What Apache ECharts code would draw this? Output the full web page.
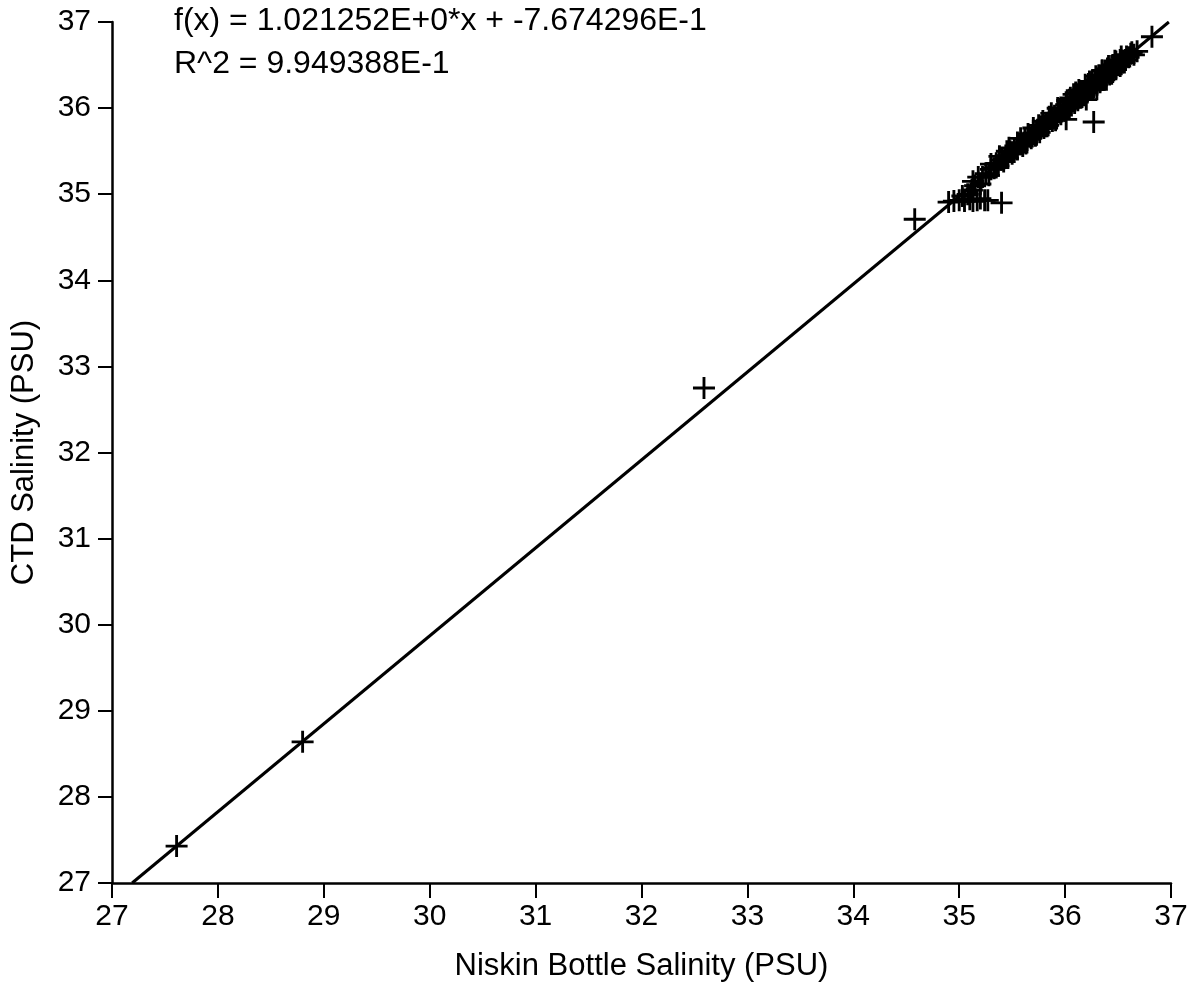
<!DOCTYPE html>
<html>
<head>
<meta charset="utf-8">
<script src="https://cdn.jsdelivr.net/npm/echarts@6/dist/echarts.min.js"></script>
<style>
html,body{margin:0;padding:0;background:#fff;}
#c{width:1192px;height:989px;}
</style>
</head>
<body>
<div id="c"></div>
<script>
// Tick values on both axes
var axisTicks = [27, 28, 29, 30, 31, 32, 33, 34, 35, 36, 37];

// Niskin bottle salinity (x) and CTD salinity (y)
var bottleSal = [
  27.61, 28.80, 32.59, 34.58, 35.40, 36.27, 36.01,
  36.82, 36.60, 36.63, 36.55, 36.68,
  34.90, 34.95, 35.00, 35.05, 35.10, 35.13, 35.17, 35.20, 35.24, 35.27,
  35.12, 35.15, 35.13, 35.18, 35.20, 35.08, 35.03,
  35.22, 35.25, 35.28, 35.30, 35.33, 35.35, 35.37, 35.40, 35.42, 35.44,
  35.46, 35.48, 35.50, 35.52, 35.55, 35.57, 35.60, 35.62, 35.64, 35.66,
  35.68, 35.70, 35.72, 35.74, 35.76, 35.78, 35.80, 35.82, 35.84, 35.86,
  35.88, 35.90, 35.92, 35.94, 35.96, 35.98, 36.00, 36.01, 36.03, 36.05,
  36.06, 36.08, 36.09, 36.11, 36.12, 36.14, 36.15, 36.17, 36.18, 36.20,
  36.21, 36.22, 36.24, 36.25, 36.27, 36.28, 36.30, 36.31, 36.33, 36.34,
  36.36, 36.37, 36.39, 36.40, 36.42, 36.43, 36.45, 36.46, 36.48, 36.50,
  36.52, 36.54, 36.56, 36.58, 36.62, 36.65,
  36.10, 36.20, 36.35, 36.30, 36.45, 36.15, 36.25, 36.40, 36.05, 35.95,
  35.85, 35.75, 35.65, 35.55, 35.45, 36.32, 36.38, 36.48, 36.52, 36.22,
  35.30, 35.38, 35.47, 35.58, 35.70, 35.79, 35.87, 35.93, 36.02, 36.08,
  36.13, 36.19, 36.23, 36.29, 36.35, 36.41, 36.47, 36.53, 35.35, 35.52,
  35.63, 35.73, 35.83, 35.91, 36.04, 36.16, 36.26, 36.37, 36.44, 36.57
];
var ctdSal = [
  27.43, 28.64, 32.75, 34.71, 34.90, 35.84, 35.87,
  36.83, 36.59, 36.65, 36.55, 36.66,
  34.91, 34.92, 34.93, 34.92, 34.94, 34.92, 34.93, 34.95, 34.93, 34.93,
  35.05, 35.10, 35.15, 35.20, 35.12, 35.00, 34.98,
  35.20, 35.24, 35.22, 35.29, 35.30, 35.36, 35.33, 35.40, 35.38, 35.45,
  35.42, 35.50, 35.47, 35.53, 35.52, 35.58, 35.56, 35.64, 35.60, 35.67,
  35.65, 35.71, 35.68, 35.75, 35.72, 35.79, 35.77, 35.83, 35.80, 35.87,
  35.85, 35.91, 35.88, 35.95, 35.93, 36.00, 35.97, 36.04, 36.00, 36.07,
  36.03, 36.10, 36.06, 36.13, 36.09, 36.16, 36.12, 36.19, 36.15, 36.22,
  36.18, 36.25, 36.21, 36.27, 36.24, 36.30, 36.27, 36.33, 36.30, 36.36,
  36.33, 36.39, 36.36, 36.42, 36.39, 36.45, 36.42, 36.48, 36.45, 36.51,
  36.49, 36.55, 36.53, 36.60, 36.63, 36.62,
  36.18, 36.10, 36.44, 36.22, 36.50, 36.20, 36.30, 36.46, 36.12, 35.99,
  35.90, 35.80, 35.70, 35.60, 35.50, 36.38, 36.42, 36.54, 36.56, 36.28,
  35.35, 35.44, 35.54, 35.65, 35.77, 35.85, 35.94, 36.00, 36.09, 36.16,
  36.21, 36.27, 36.31, 36.37, 36.43, 36.49, 36.55, 36.60, 35.31, 35.49,
  35.59, 35.69, 35.79, 35.86, 36.01, 36.13, 36.22, 36.33, 36.40, 36.56
];

// Fitted line end points: f(x) = 1.021252x - 0.7674296
var fitX = [27.19, 36.98];
var fitY = [27.00, 37.00];

var eqText = 'f(x) = 1.021252E+0*x + -7.674296E-1';
var r2Text = 'R^2 = 9.949388E-1';
var xName = 'Niskin Bottle Salinity (PSU)';
var yName = 'CTD Salinity (PSU)';

var pts = bottleSal.map(function (x, i) { return [x, ctdSal[i]]; });
var fit = fitX.map(function (x, i) { return [x, fitY[i]]; });

var FONT = '"Liberation Sans", Arial, Helvetica, sans-serif';
var plusPath = 'path://M0,8.8L20,8.8L20,11.4L0,11.4Z M8.7,0L11.3,0L11.3,20L8.7,20Z';

var chart = echarts.init(document.getElementById('c'), null, {renderer: 'canvas'});
function axisCommon(name, gap, tickLen, margin) {
  return {
    type: 'value',
    min: axisTicks[0],
    max: axisTicks[axisTicks.length - 1],
    interval: 1,
    name: name,
    nameLocation: 'middle',
    nameGap: gap,
    nameTextStyle: {color: '#000', fontSize: 31, fontFamily: FONT},
    axisLine: {show: true, onZero: false, lineStyle: {color: '#000', width: 2.5}},
    axisTick: {show: true, inside: false, length: tickLen, lineStyle: {color: '#000', width: 2}},
    axisLabel: {color: '#000', fontSize: 30, fontFamily: FONT, margin: margin},
    splitLine: {show: false}
  };
}
chart.setOption({
  backgroundColor: '#fff',
  animation: false,
  grid: {left: 112, right: 21, top: 22, bottom: 106, containLabel: false},
  xAxis: axisCommon(xName, 68, 15, 19),
  yAxis: axisCommon(yName, 72, 14, 21),
  graphic: [
    {type: 'text', left: 174, top: 5, style: {text: eqText, fill: '#000', font: '32px ' + FONT}},
    {type: 'text', left: 174, top: 48, style: {text: r2Text, fill: '#000', font: '32px ' + FONT}}
  ],
  series: [
    {
      type: 'line',
      data: fit,
      symbol: 'none',
      lineStyle: {color: '#000', width: 3},
      z: 2
    },
    {
      type: 'scatter',
      data: pts,
      symbol: plusPath,
      symbolSize: 22,
      itemStyle: {color: '#000', opacity: 1},
      z: 3
    }
  ]
});
</script>
</body>
</html>
